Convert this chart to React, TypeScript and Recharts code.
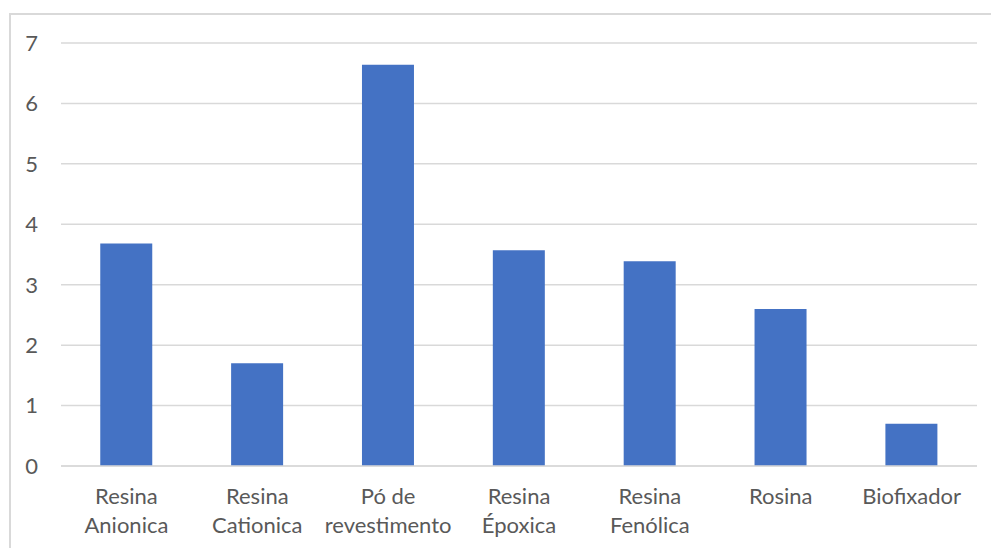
import { BarChart, Bar, XAxis, YAxis, CartesianGrid } from "recharts";

const categories = [
  "Resina Anionica",
  "Resina Cationica",
  "Pó de revestimento",
  "Resina Époxica",
  "Resina Fenólica",
  "Rosina",
  "Biofixador",
];
const values = [3.68, 1.7, 6.64, 3.57, 3.39, 2.6, 0.7];
const yTicks = [0, 1, 2, 3, 4, 5, 6, 7];

const data = categories.map((name, i) => ({ name, value: values[i] }));

const FONT = "Lato, 'Open Sans', sans-serif";
const TEXT = "#595959";
const GRID = "#d9d9d9";

// wrap a category name into lines of roughly 10 characters
const wrap = (label: string) => {
  const lines: string[] = [];
  let cur = "";
  label.split(" ").forEach((w) => {
    if (!cur) cur = w;
    else if ((cur + " " + w).length <= 10) cur += " " + w;
    else {
      lines.push(cur);
      cur = w;
    }
  });
  if (cur) lines.push(cur);
  return lines;
};

const CategoryTick = ({ x, y, payload }: any) => {
  const lines = wrap(String(payload.value));
  return (
    <text
      x={x}
      y={y}
      textAnchor="middle"
      fill={TEXT}
      fontSize={22}
      fontFamily={FONT}>
      {lines.map((line, i) => (
        <tspan key={i} x={x} dy={i === 0 ? 29.5 : 29.5}>
          {line}
        </tspan>
      ))}
    </text>
  );
};

const App = () => {
  return (
    <div
      style={{
        position: "absolute",
        left: 0,
        top: 0,
        width: 991,
        height: 548,
        overflow: "hidden",
        background: "#fff",
      }}>
      <div
        style={{
          position: "absolute",
          left: 9,
          top: 13,
          width: 1100,
          height: 700,
          borderLeft: `2px solid ${GRID}`,
          borderTop: `2px solid ${GRID}`,
        }}
      />
      <div style={{ position: "absolute", left: 0, top: 0 }}>
        <BarChart
          width={991}
          height={548}
          data={data}
          barCategoryGap="30%"
          margin={{ top: 43, right: 14, left: 11, bottom: 22 }}>
          <CartesianGrid
            vertical={false}
            stroke={GRID}
            strokeWidth={1.5}
          />
          <XAxis
            dataKey="name"
            interval={0}
            height={60}
            axisLine={{ stroke: GRID, strokeWidth: 1.5 }}
            tickLine={false}
            tick={<CategoryTick />}
          />
          <YAxis
            width={50}
            domain={[0, 7]}
            ticks={yTicks}
            interval={0}
            axisLine={false}
            tickLine={false}
            tickMargin={17}
            tick={{ fill: TEXT, fontSize: 22, fontFamily: FONT }}
          />
          <Bar dataKey="value" fill="#4472C4" isAnimationActive={false} />
        </BarChart>
      </div>
    </div>
  );
};

export default App;
